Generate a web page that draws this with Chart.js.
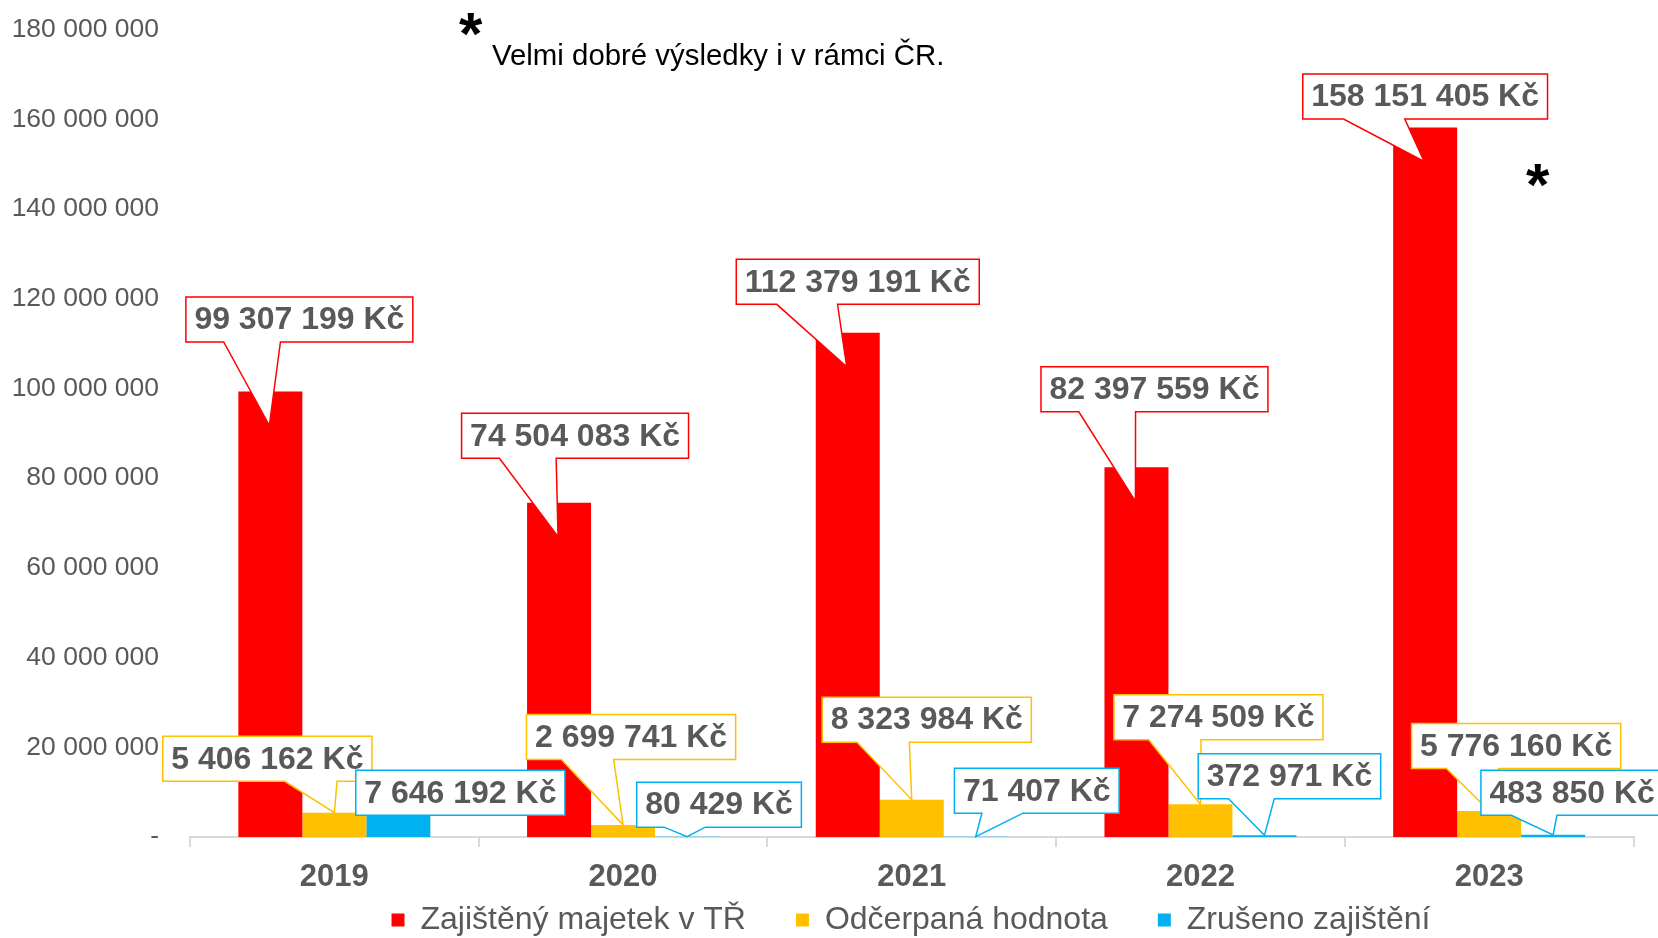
<!DOCTYPE html>
<html>
<head>
<meta charset="utf-8">
<script src="https://cdn.jsdelivr.net/npm/chart.js@4.4.1/dist/chart.umd.min.js"></script>
<style>
  html, body { margin: 0; padding: 0; background: #fff; }
</style>
</head>
<body>
<canvas id="chart" width="1658" height="938"></canvas>
<script>
const years = ['2019', '2020', '2021', '2022', '2023']
const seriesNames = ['Zajištěný majetek v TŘ', 'Odčerpaná hodnota', 'Zrušeno zajištění']
const majetek = [99307199, 74504083, 112379191, 82397559, 158151405]
const odcerpano = [5406162, 2699741, 8323984, 7274509, 5776160]
const zruseno = [7646192, 80429, 71407, 372971, 483850]
const yMax = 180000000
const yStep = 20000000
const note = 'Velmi dobré výsledky i v rámci ČR.'

const FONT = '"Liberation Sans", Arial, sans-serif'
const GREY = '#595959'
const colors = ['#ff0000', '#ffc000', '#00b0f0']

// where each callout box sits (center), relative to the top of its bar, in px
const calloutPos = [
  [[29, -72], [16, -67], [10, -51], [18, -78], [0, -31]],
  [[-67, -54], [8, -88], [15, -80], [18, -87], [27, -65]],
  [[62, -10], [32, -32], [61, -46], [25, -59], [19, -42]]
]
// how far below the bar top the pointer ends
const tipDrop = [34, 0, 0]

function fmt(v) {
  return String(v).replace(/\B(?=(\d{3})+(?!\d))/g, ' ')
}

Chart.defaults.font.family = FONT
Chart.defaults.color = GREY

const callouts = {
  id: 'callouts',
  afterDatasetsDraw(chart) {
    const ctx = chart.ctx
    ctx.save()
    chart.data.datasets.forEach((ds, d) => {
      const meta = chart.getDatasetMeta(d)
      meta.data.forEach((bar, i) => {
        const text = fmt(ds.data[i]) + ' Kč'
        ctx.font = 'bold 32px ' + FONT
        const w = ctx.measureText(text).width + 17,
          h = 45
        const cx = bar.x + calloutPos[d][i][0],
          cy = bar.y + calloutPos[d][i][1]
        const l = cx - w / 2, t = cy - h / 2, r = l + w, b = t + h
        const tx = bar.x - (d === 0 ? 1 : 0),
          ty = bar.y + tipDrop[d]
        ctx.beginPath()
        ctx.moveTo(l, t)
        ctx.lineTo(r, t)
        ctx.lineTo(r, b)
        if (ty > b) {
          const left = tx < cx
          const b1 = l + w * (left ? 1 / 6 : 7 / 12),
            b2 = l + w * (left ? 5 / 12 : 5 / 6)
          ctx.lineTo(b2, b)
          ctx.lineTo(tx, ty)
          ctx.lineTo(b1, b)
        }
        ctx.lineTo(l, b)
        ctx.closePath()
        ctx.fillStyle = '#fff'
        ctx.fill()
        ctx.lineWidth = 1.5
        ctx.strokeStyle = colors[d]
        ctx.stroke()
        ctx.fillStyle = GREY
        ctx.textAlign = 'center'
        ctx.textBaseline = 'middle'
        ctx.fillText(text, cx, cy + 1)
      })
    })
    ctx.restore()
  },
  afterDraw(chart) {
    const ctx = chart.ctx
    ctx.save()
    ctx.fillStyle = '#000'
    ctx.textAlign = 'left'
    ctx.textBaseline = 'alphabetic'
    ctx.font = '29.4px ' + FONT
    ctx.fillText(note, 492, 65)
    // asterisks, centered on their glyph
    ctx.font = 'bold 60px ' + FONT
    const m = ctx.measureText('*')
    const gw = m.actualBoundingBoxRight + m.actualBoundingBoxLeft,
      gh = m.actualBoundingBoxAscent + m.actualBoundingBoxDescent
    ;[[471, 24], [1538, 175]].forEach(p => {
      ctx.fillText('*', p[0] - gw / 2 + m.actualBoundingBoxLeft, p[1] - gh / 2 + m.actualBoundingBoxAscent)
    })
    ctx.restore()
  },
  afterLayout(chart) {
    // legend sits under the plot, centred a bit right of the canvas middle
    const lg = chart.legend
    const dx = 911 - (lg.left + lg.right) / 2
    lg.left += dx
    lg.right += dx
    lg.top = 920 - 50 - 16
    lg.bottom = chart.height
  }
}

const ctx = document.getElementById('chart').getContext('2d')
const chart = new Chart(ctx, {
  type: 'bar',
  data: {
    labels: years,
    datasets: [
      { label: seriesNames[0], data: majetek, backgroundColor: colors[0], borderColor: colors[0] },
      { label: seriesNames[1], data: odcerpano, backgroundColor: colors[1], borderColor: colors[1] },
      { label: seriesNames[2], data: zruseno, backgroundColor: colors[2], borderColor: colors[2] }
    ]
  },
  options: {
    responsive: false,
    animation: false,
    layout: { padding: { top: 29.5, right: 24.5, bottom: 0, left: 0 } },
    datasets: {
      bar: { categoryPercentage: 0.665, barPercentage: 1, borderWidth: 0 }
    },
    scales: {
      x: {
        grid: {
          display: true,
          drawOnChartArea: false,
          drawTicks: true,
          tickLength: 10,
          color: '#d9d9d9',
          lineWidth: 2
        },
        border: { display: true, color: '#d9d9d9', width: 2 },
        ticks: { font: { size: 31, weight: 'bold' }, color: GREY, padding: 12 },
        afterFit: s => { s.height = 61 }
      },
      y: {
        min: 0,
        max: yMax,
        grid: { display: false },
        border: { display: false },
        ticks: {
          stepSize: yStep,
          font: { size: 26.5 },
          color: GREY,
          padding: 23,
          callback: v => (v === 0 ? '-' : fmt(v))
        },
        afterFit: s => {
          s.width = 190
          s.paddingTop = 0
          s.paddingBottom = 0
        }
      }
    },
    plugins: {
      legend: {
        position: 'bottom',
        maxHeight: 40,
        labels: {
          font: { size: 32 },
          color: GREY,
          boxWidth: 13,
          boxHeight: 13,
          padding: 50
        }
      },
      tooltip: { enabled: false }
    }
  },
  plugins: [callouts]
})
</script>
</body>
</html>
